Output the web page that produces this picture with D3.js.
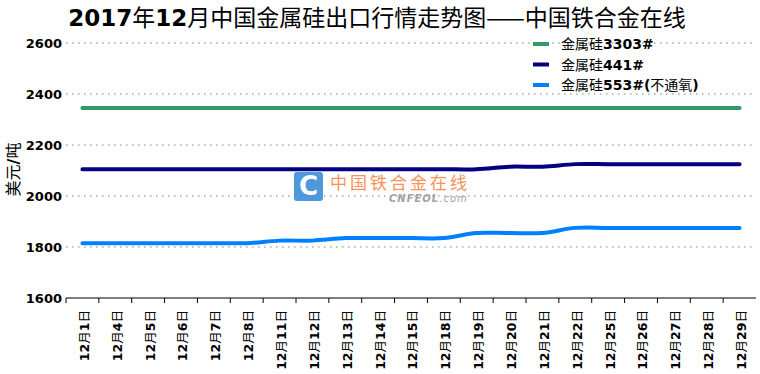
<!DOCTYPE html>
<html>
<head>
<meta charset="utf-8">
<script src="https://cdn.jsdelivr.net/npm/d3@7"></script>
<style>
  body { margin: 0; background: #fff; }
  svg { display: block; font-family: "DejaVu Sans", "Noto Sans CJK SC", sans-serif; }
</style>
</head>
<body>
<div id="chart"></div>
<script>
const dates = ['12月1日', '12月4日', '12月5日', '12月6日', '12月7日', '12月8日', '12月11日',
  '12月12日', '12月13日', '12月14日', '12月15日', '12月18日', '12月19日', '12月20日',
  '12月21日', '12月22日', '12月25日', '12月26日', '12月27日', '12月28日', '12月29日'];

const si3303 = [2345, 2345, 2345, 2345, 2345, 2345, 2345, 2345, 2345, 2345, 2345,
  2345, 2345, 2345, 2345, 2345, 2345, 2345, 2345, 2345, 2345];
const si441 = [2105, 2105, 2105, 2105, 2105, 2105, 2105, 2105, 2105, 2105, 2105,
  2105, 2105, 2115, 2115, 2125, 2125, 2125, 2125, 2125, 2125];
const si553 = [1815, 1815, 1815, 1815, 1815, 1815, 1825, 1825, 1835, 1835, 1835,
  1835, 1855, 1855, 1855, 1875, 1875, 1875, 1875, 1875, 1875];

const seriesNames = ['金属硅3303#', '金属硅441#', '金属硅553#(不通氧)'];
const seriesColors = ['#339966', '#000080', '#0080ff'];
const yTicks = [1600, 1800, 2000, 2200, 2400, 2600];

const title = '2017年12月中国金属硅出口行情走势图——中国铁合金在线';
const yTitle = '美元/吨';

const width = 760, height = 374;
const plot = { left: 66, right: 756, top: 43, bottom: 298 };

// write text with latin runs bold and CJK runs normal
function mixedText(sel, str) {
  let runs = str.match(/[\u3000-\u9fff\u2014]+|[^\u3000-\u9fff\u2014]+/g);
  runs.forEach((r) => {
    let cjk = /[\u3000-\u9fff\u2014]/.test(r);
    sel.append('tspan')
       .attr('font-weight', cjk ? 'normal' : 'bold')
       .attr('font-family', cjk ? '"Noto Sans CJK SC", sans-serif' : '"DejaVu Sans", sans-serif')
       .text(r);
  });
}

let svg = d3.select('#chart')
            .append('svg')
            .attr('width', width)
            .attr('height', height);

let x = d3.scaleBand()
          .domain(dates)
          .range([plot.left, plot.right]);

let y = d3.scaleLinear()
          .domain([1600, 2600])
          .range([plot.bottom, plot.top]);

// title
let t = svg.append('text')
           .attr('x', 377)
           .attr('y', 26)
           .attr('text-anchor', 'middle')
           .attr('font-size', 23)
           .attr('fill', '#000');
mixedText(t, title);

// grid lines
svg.append('g')
   .selectAll('line')
   .data(yTicks.slice(1))
   .enter()
   .append('line')
   .attr('x1', plot.left)
   .attr('x2', plot.right - 3)
   .attr('y1', (d) => y(d))
   .attr('y2', (d) => y(d))
   .attr('stroke', '#aaa')
   .attr('stroke-width', 1.5)
   .attr('stroke-dasharray', '1.5,4.5');

// y tick labels
svg.append('g')
   .selectAll('text')
   .data(yTicks)
   .enter()
   .append('text')
   .attr('x', 62)
   .attr('y', (d) => y(d))
   .attr('dy', '0.36em')
   .attr('text-anchor', 'end')
   .attr('font-size', 13)
   .attr('font-weight', 'bold')
   .text((d) => d);

// y title
let yt = svg.append('text')
            .attr('transform', `translate(19, ${(plot.top + plot.bottom) / 2 - 1}) rotate(-90)`)
            .attr('text-anchor', 'middle')
            .attr('font-size', 16);
mixedText(yt, yTitle);

// x axis
let xAxis = svg.append('g');
xAxis.append('line')
     .attr('x1', plot.left)
     .attr('x2', plot.right)
     .attr('y1', plot.bottom)
     .attr('y2', plot.bottom)
     .attr('stroke', '#000')
     .attr('stroke-width', 1.2);

xAxis.selectAll('.tick')
     .data(dates)
     .enter()
     .append('line')
     .attr('class', 'tick')
     .attr('x1', (d) => x(d))
     .attr('x2', (d) => x(d))
     .attr('y1', plot.bottom)
     .attr('y2', plot.bottom + 5)
     .attr('stroke', '#000');

xAxis.selectAll('.xlabel')
     .data(dates)
     .enter()
     .append('text')
     .attr('class', 'xlabel')
     .attr('transform', (d) => `translate(${x(d) + x.bandwidth() / 2 + 2}, ${plot.bottom + 12}) rotate(-90)`)
     .attr('text-anchor', 'end')
     .attr('dy', '0.35em')
     .attr('font-size', 12.5)
     .each(function(d) { mixedText(d3.select(this), d); });

// watermark
let wm = svg.append('g').attr('opacity', 0.9);
wm.append('rect')
  .attr('x', 294)
  .attr('y', 172)
  .attr('width', 29)
  .attr('height', 29)
  .attr('rx', 3)
  .attr('fill', '#3a8fd6');
wm.append('text')
  .attr('x', 308.5)
  .attr('y', 195)
  .attr('text-anchor', 'middle')
  .attr('font-size', 26)
  .attr('font-weight', 'bold')
  .attr('fill', '#fff')
  .text('C');
wm.append('text')
  .attr('x', 330)
  .attr('y', 189)
  .attr('font-size', 17)
  .attr('letter-spacing', 3)
  .attr('fill', '#f4884a')
  .attr('font-family', '"Noto Sans CJK SC", sans-serif')
  .text('中国铁合金在线');
wm.append('text')
  .attr('x', 389)
  .attr('y', 202)
  .attr('font-size', 10)
  .attr('font-style', 'italic')
  .attr('letter-spacing', 1)
  .attr('fill', '#999')
  .html('<tspan font-weight="bold">CNFEOL</tspan>.com');

// lines
let line = d3.line()
             .x((d, i) => x(dates[i]) + x.bandwidth() / 2)
             .y((d) => y(d))
             .curve(d3.curveCardinal.tension(0));

[si3303, si441, si553].forEach((s, i) => {
  svg.append('path')
     .datum(s)
     .attr('fill', 'none')
     .attr('stroke', seriesColors[i])
     .attr('stroke-width', 4)
     .attr('stroke-linecap', 'round')
     .attr('d', line);
});

// legend
let legend = svg.append('g')
                .selectAll('g')
                .data(seriesNames)
                .enter()
                .append('g')
                .attr('transform', (d, i) => `translate(533, ${44 + i * 20.5})`);
legend.append('line')
      .attr('x1', 0)
      .attr('x2', 16)
      .attr('stroke', (d, i) => seriesColors[i])
      .attr('stroke-width', 4);
legend.append('text')
      .attr('x', 28)
      .attr('dy', '0.36em')
      .attr('font-size', 14)
      .each(function(d) { mixedText(d3.select(this), d); });
</script>
</body>
</html>
